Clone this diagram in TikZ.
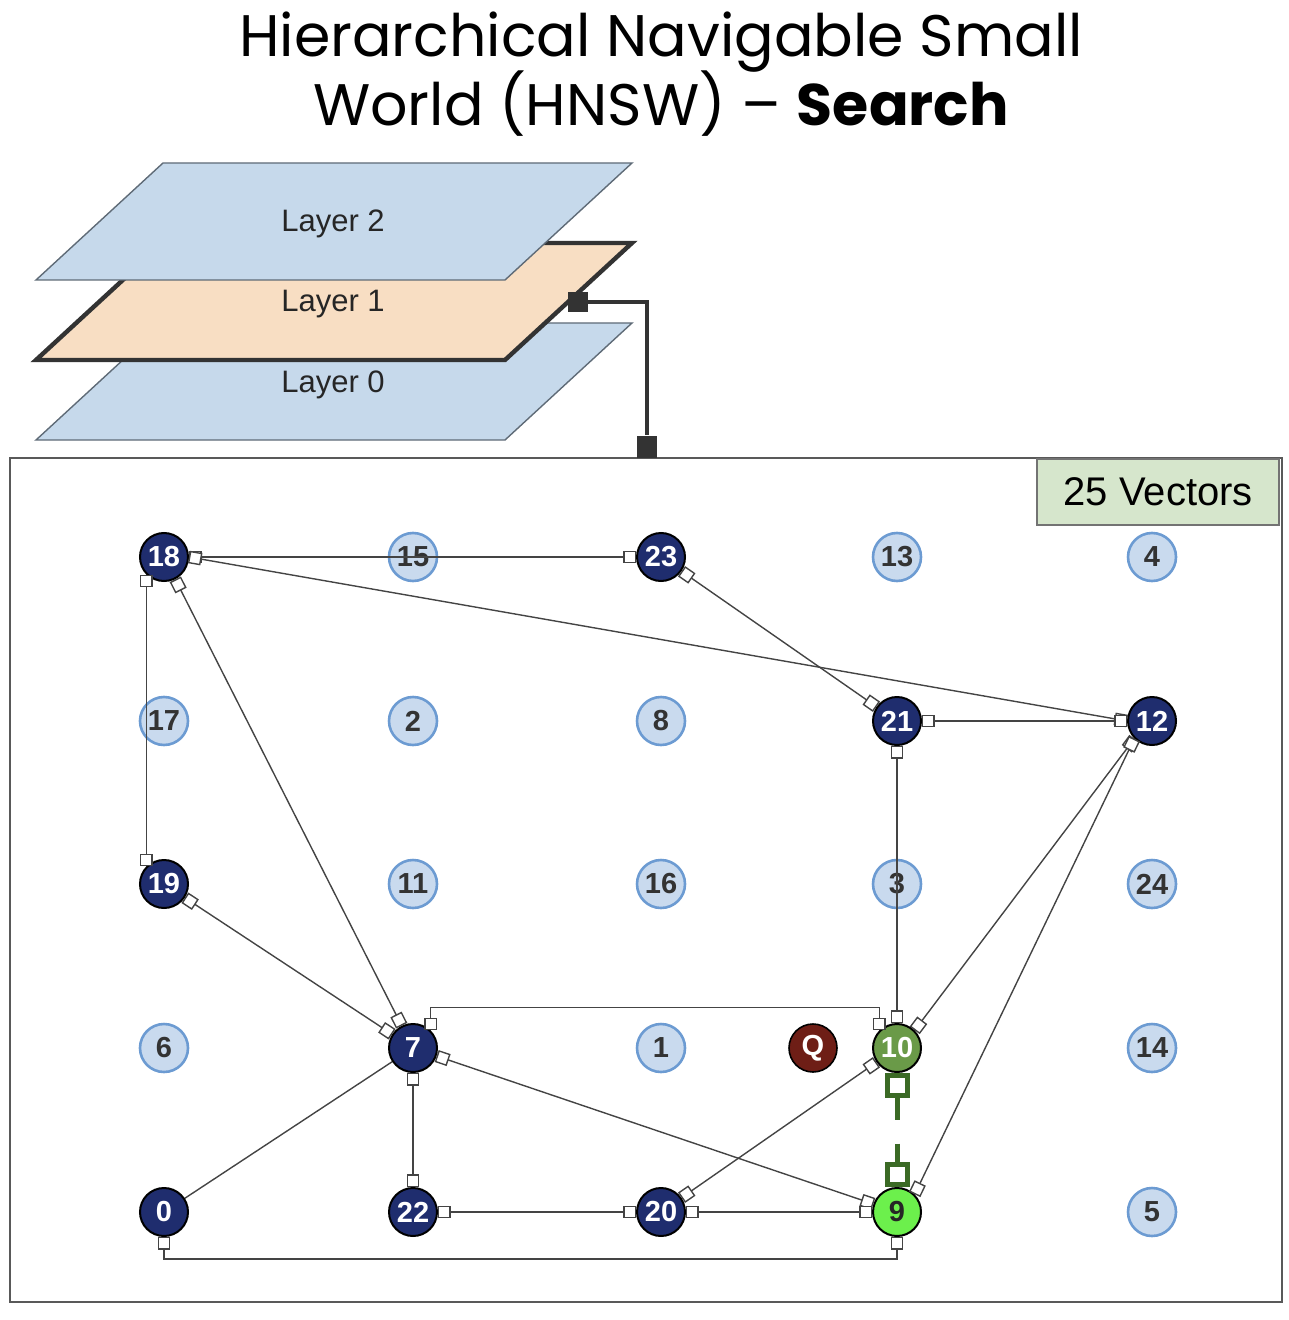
\documentclass[tikz,border=0pt]{standalone}
\usepackage{fontspec}
\setmainfont{Liberation Sans}
\newfontfamily\titlefont{Poppins}
\usetikzlibrary{arrows.meta}
\definecolor{navy}{HTML}{1F2D6E}
\definecolor{vecfill}{HTML}{C9DAEE}
\definecolor{vecline}{HTML}{6C9BD2}
\definecolor{vectext}{HTML}{333333}
\definecolor{planeblue}{HTML}{C6D9EB}
\definecolor{planeline}{HTML}{5F6B77}
\definecolor{planepeach}{HTML}{F8DEC3}
\definecolor{nearfill}{HTML}{6A9A48}
\definecolor{hitfill}{HTML}{6CF04C}
\definecolor{pathgreen}{HTML}{3B6A25}
\definecolor{queryfill}{HTML}{6E1E16}
\definecolor{notefill}{HTML}{D6E6CC}
\definecolor{linkgray}{HTML}{444444}
\begin{document}
\begin{tikzpicture}[x=0.5pt,y=-0.5pt,
	vec/.style={circle,draw=vecline,fill=vecfill,line width=1.3pt,minimum size=24pt,inner sep=0pt,
		text=vectext,font=\bfseries\fontsize{14.5}{14.5}\selectfont},
	hub/.style={vec,draw=black,fill=navy,text=white,line width=1pt},
	sq/.tip={Square[fill=white,length=6.3pt,width=6.3pt]},
	bigsq/.tip={Square[fill=white,length=12.5pt,width=12.5pt]},
	link/.style={draw=linkgray,line width=0.7pt,sq-sq},
	plane/.style={draw=planeline,fill=planeblue,line width=0.7pt},
	layertext/.style={font=\fontsize{15.5}{15.5}\selectfont,text=black!85}]
	\useasboundingbox(0,0)rectangle(1288,1320);

	% title
	\node[anchor=base,font=\titlefont\fontsize{29.3}{29.3}\selectfont](title1)at(661,57){Hierarchical Navigable Small};
	\node[anchor=base,font=\titlefont\fontsize{29.3}{29.3}\selectfont](title2)at(661,126){World (HNSW) – {\bfseries Search}};

	% layers
	\draw[plane](36,440)--(163,323)--(632,323)--(505,440)--cycle;
	\draw[fill=planepeach,draw=black!80,line width=2.2pt](36,360)--(163,243)--(632,243)--(505,360)--cycle;
	\draw[plane](36,280)--(163,163)--(632,163)--(505,280)--cycle;
	\node[layertext](lay2)at(333,224){Layer 2};
	\node[layertext](lay1)at(333,304){Layer 1};
	\node[layertext](lay0)at(333,385){Layer 0};

	% frame of layer 1
	\draw[draw=black!65,line width=1pt](10,458)rectangle(1282,1302);
	\node[draw=black!55,fill=notefill,line width=0.8pt,minimum width=121pt,minimum height=33pt,
		font=\fontsize{20}{20}\selectfont,anchor=north east](count)at(1280,458){25 Vectors};
	\node[fill=black!80,minimum size=10pt,inner sep=0pt](pin1)at(578,302){};
	\node[fill=black!80,minimum width=10pt,minimum height=11pt,inner sep=0pt,anchor=south](pin0)at(647,458){};
	\draw[black!80,line width=1.6pt](pin1.east)-|(pin0.north);

	% vectors
	\def\vecnode(#1,#2,#3){\node[vec](n#1)at(#2,#3){#1};}%
	\def\hubnode(#1,#2,#3){\node[hub](n#1)at(#2,#3){#1};}%
	\hubnode(18,164,557)
	\vecnode(15,413,557)
	\hubnode(23,661,557)
	\vecnode(13,897,557)
	\vecnode(4,1152,557)
	\vecnode(17,164,721)
	\vecnode(2,413,721)
	\vecnode(8,661,721)
	\hubnode(21,897,721)
	\hubnode(12,1152,721)
	\hubnode(19,164,884)
	\vecnode(11,413,884)
	\vecnode(16,661,884)
	\vecnode(3,897,884)
	\vecnode(24,1152,884)
	\vecnode(6,164,1048)
	\hubnode(7,413,1048)
	\vecnode(1,661,1048)
	\vecnode(14,1152,1048)
	\hubnode(0,164,1212)
	\hubnode(22,413,1212)
	\hubnode(20,661,1212)
	\vecnode(5,1152,1212)
	\node[hub,fill=nearfill](n10)at(897,1048){10};
	\node[hub,fill=hitfill,text=black!85](n9)at(897,1212){9};
	\node[hub,fill=queryfill,line width=0.8pt](q)at(813,1048){Q};

	% links
	\draw[link](n18.east)--(n23.west);
	\draw[link](n18.east)--(n12.west);
	\draw[link](n18.south west)--(n19.north west);
	\draw[link](n18)--(n7);
	\draw[link](n23)--(n21);
	\draw[link](n21.east)--(n12.west);
	\draw[link](n21.south)--(n10.north);
	\draw[link](n12.south west)--(n10.north east);
	\draw[link](n12.south west)--(n9.north east);
	\draw[link](n19)--(n7);
	\draw[link](n7.north east)--++(0,-23)-|(n10.north west);
	\draw[link](n7)--(n9);
	\draw[link](n7.south)--(n22.north);
	\draw[draw=linkgray,line width=0.7pt](n0)--(n7);
	\draw[link](n0.south)--++(0,22)-|(n9.south);
	\draw[link](n22.east)--(n20.west);
	\draw[link](n20.east)--(n9.west);
	\draw[link](n20)--(n10);
	\draw[draw=pathgreen,line width=2.5pt,dash pattern=on 12pt off 12pt,bigsq-bigsq](n10.south)--(n9.north);
\end{tikzpicture}
\end{document}
